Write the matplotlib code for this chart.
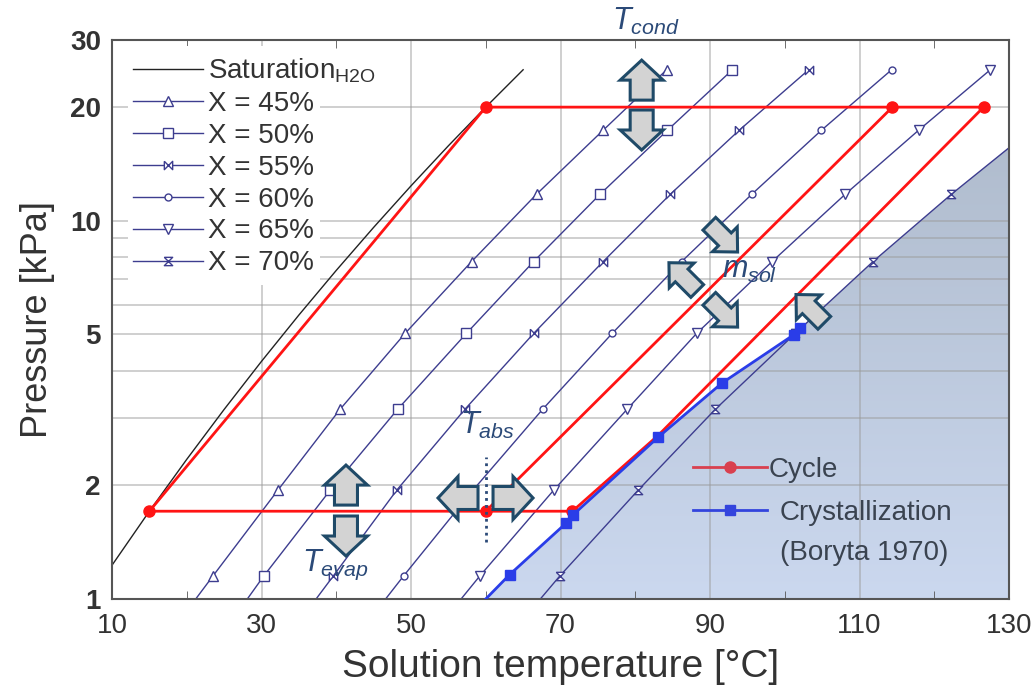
import numpy as np
import matplotlib as mpl
import matplotlib.pyplot as plt
from matplotlib.patches import Polygon, Rectangle
from matplotlib.lines import Line2D
from matplotlib.ticker import NullFormatter
from matplotlib.transforms import IdentityTransform

mpl.use('Agg')

plt.rcParams['font.family'] = ['Liberation Sans', 'DejaVu Sans']
plt.rcParams['mathtext.fontset'] = 'custom'
plt.rcParams['mathtext.rm'] = 'Liberation Sans'
plt.rcParams['mathtext.it'] = 'Liberation Sans:italic'

# water saturation curve
t_sat = [10, 15, 20, 25, 30, 35, 40, 45, 50, 55, 60, 65]
p_sat = [1.228, 1.706, 2.339, 3.169, 4.246, 5.628, 7.384, 9.593, 12.35, 15.76, 19.94, 25.03]

# pressure levels of the iso-concentration points (first one = start of line, no marker)
p_lev = [1.0, 1.15, 1.94, 3.17, 5.03, 7.79, 11.74, 17.32, 25.03]

# solution temperature at each pressure level
t_45 = [21.2, 23.5, 32.2, 40.5, 49.2, 58.1, 66.8, 75.7, 84.2]
t_50 = [28.1, 30.3, 39.2, 48.2, 57.4, 66.4, 75.3, 84.3, 93.0]
t_55 = [37.3, 39.6, 48.1, 57.2, 66.4, 75.7, 84.7, 93.9, 103.2]
t_60 = [46.6, 49.0, 58.3, 67.6, 76.9, 86.2, 95.6, 104.9, 114.3]
t_65 = [56.7, 59.2, 69.1, 78.9, 88.2, 98.3, 108.1, 117.9, 127.5]
t_70 = [67.3, 69.9, 80.4, 90.7, 101.4, 111.8, 122.3, 132.9]

# absorption cycle
cycle_t = [15.0, 60.0, 126.6, 83.1, 71.6, 15.0]
cycle_p = [1.706, 19.94, 19.94, 2.71, 1.706, 1.706]
inner_t = [60.0, 114.4]
inner_p = [1.706, 19.94]
state_t = [15.0, 60.0, 114.4, 126.6, 60.0, 71.6]
state_p = [1.706, 19.94, 19.94, 19.94, 1.706, 1.706]

# crystallization line (Boryta 1970)
crys_t = [60.0, 63.2, 70.8, 71.7, 83.1, 91.6, 101.2, 102.0]
crys_p = [1.00, 1.16, 1.59, 1.67, 2.68, 3.72, 4.99, 5.19]
# upper edge of the crystallization zone beyond the last point
zone_t = [111.8, 122.3, 130.0, 130.0, 60.0]
zone_p = [7.79, 11.74, 15.6, 1.0, 1.0]

line_col = '#3d3d8f'
text_col = '#333333'
note_col = '#2b4a78'

bowtie = [(-1, 1), (-1, -1), (1, 1), (1, -1), (-1, 1)]
hourglass = [(-1, 1), (1, 1), (-1, -1), (1, -1), (-1, 1)]

fig = plt.figure(figsize=(10.36, 6.85), dpi=100)
ax = fig.add_axes([112 / 1036, 1 - 599 / 685, 897 / 1036, 559 / 685])
ax.set_yscale('log')

# crystallization zone with a soft vertical gradient
zone = Polygon(np.column_stack([crys_t + zone_t, crys_p + zone_p]), closed=True,
               fc='none', ec='none')
ax.add_patch(zone)
c_top = np.array(mpl.colors.to_rgb('#aab6c6'))
c_bot = np.array(mpl.colors.to_rgb('#cbd8ef'))
g = np.linspace(0, 1, 256)[:, None]
grad = (c_top * (1 - g) + c_bot * g)[:, None, :].repeat(2, axis=1)
im = ax.imshow(grad, extent=[0, 1, 0, 1], transform=ax.transAxes, aspect='auto',
               zorder=1, interpolation='bilinear')
im.set_clip_path(zone)

ax.plot(t_sat, p_sat, color='#222222', lw=1.0, label=r'Saturation$_{\mathregular{H2O}}$', zorder=2)

series = [
    (t_45, '^', 7, 'X = 45%'),
    (t_50, 's', 7, 'X = 50%'),
    (t_55, bowtie, 6, 'X = 55%'),
    (t_60, 'o', 5, 'X = 60%'),
    (t_65, 'v', 7, 'X = 65%'),
    (t_70, hourglass, 6, 'X = 70%'),
]
for t, mk, ms, lab in series:
    ax.plot(t, p_lev[:len(t)], color=line_col, lw=1.0, marker=mk, ms=ms, mfc='white',
            mec=line_col, mew=1.0, markevery=slice(1, None), label=lab, zorder=2)

red = '#ff1414'
ax.plot(cycle_t, cycle_p, color=red, lw=2.0, zorder=3)
ax.plot(inner_t, inner_p, color=red, lw=2.0, zorder=3)
ax.plot(state_t, state_p, ls='none', marker='o', ms=8, color=red, zorder=3)

blue = '#2a3de8'
ax.plot(crys_t, crys_p, color=blue, lw=2.0, marker='s', ms=7, markevery=slice(1, None), zorder=4)

# T_abs marker line
ax.plot([60, 60], [1.417, 2.377], color=note_col, ls=(0, (1, 1.5)), lw=2, zorder=4)

ax.set_xlim(10, 130)
ax.set_ylim(1, 30)

ax.set_xticks(range(10, 131, 20))
ax.set_xticks(range(20, 121, 20), minor=True)
ax.set_yticks([1, 2, 5, 10, 20, 30])
ax.set_yticklabels(['1', '2', '5', '10', '20', '30'])
ax.set_yticks([3, 4, 6, 7, 8, 9], minor=True)
ax.yaxis.set_minor_formatter(NullFormatter())
ax.tick_params(axis='x', which='major', length=0, labelsize=20, pad=10, labelcolor=text_col)
ax.tick_params(axis='x', which='minor', direction='in', length=6, top=True, bottom=True,
               color='#555555')
ax.tick_params(axis='y', which='both', length=0, labelsize=20, pad=8, labelcolor=text_col)
for lab in ax.get_yticklabels():
    lab.set_fontweight('bold')

ax.grid(True, axis='x', which='major', color='#9a9a9a', alpha=0.55, lw=1.2)
ax.grid(True, axis='y', which='both', color='#9a9a9a', alpha=0.55, lw=1.2)
for s in ax.spines.values():
    s.set_color('#555555')
    s.set_linewidth(1.5)

ax.set_xlabel('Solution temperature [°C]', fontsize=28, color=text_col, labelpad=7)
ax.set_ylabel('Pressure [kPa]', fontsize=26, color=text_col, labelpad=11)

# white patch behind the concentration legend
ax.add_patch(Rectangle((0.0178, 0.562), 0.214, 0.427, transform=ax.transAxes,
                       fc='white', ec='none', zorder=1.6))
leg1 = ax.legend(loc='upper left', bbox_to_anchor=(0.0168, 0.980), frameon=False,
                 fontsize=20, handlelength=2.52, handletextpad=0.18, labelspacing=0.21,
                 borderpad=0.2, borderaxespad=0)
for txt in leg1.get_texts():
    txt.set_color(text_col)
ax.add_artist(leg1)

h_cycle = Line2D([], [], color='#d9404f', lw=2, marker='o', ms=8)
leg2 = ax.legend([h_cycle], ['Cycle'], loc='center left', bbox_to_anchor=(0.648, 0.231),
                 frameon=False, fontsize=20, handlelength=2.66, handletextpad=0.05,
                 borderpad=0, borderaxespad=0, labelcolor='#3a4350')
ax.add_artist(leg2)
h_crys = Line2D([], [], color='#3344dd', lw=2, marker='s', ms=7)
ax.legend([h_crys], ['Crystallization'], loc='center left', bbox_to_anchor=(0.648, 0.154),
          frameon=False, fontsize=20, handlelength=2.66, handletextpad=0.46,
          borderpad=0, borderaxespad=0, labelcolor='#3a4350')
ax.text(0.7445, 0.082, '(Boryta 1970)', transform=ax.transAxes, fontsize=20,
        color='#3a4350', va='center', ha='left')


def block_arrow(t, p, angle, length=40, head_w=43, shaft_w=23, head_len=20):
    cx, cy = ax.transData.transform((t, p))
    h = length / 2
    pts = np.array([[-h, -shaft_w / 2], [h - head_len, -shaft_w / 2],
                    [h - head_len, -head_w / 2], [h, 0], [h - head_len, head_w / 2],
                    [h - head_len, shaft_w / 2], [-h, shaft_w / 2]])
    a = np.deg2rad(angle)
    rot = np.array([[np.cos(a), -np.sin(a)], [np.sin(a), np.cos(a)]])
    pts = pts @ rot.T + [cx, cy]
    ax.add_patch(Polygon(pts, closed=True, transform=IdentityTransform(), fc='#d3d3d3',
                         ec='#1f4a68', lw=2.2, joinstyle='miter', zorder=6, clip_on=False))


block_arrow(80.86, 23.5, 90)
block_arrow(80.86, 17.35, -90)
block_arrow(41.3, 2.0, 90)
block_arrow(41.3, 1.467, -90)
block_arrow(56.29, 1.849, 180)
block_arrow(63.65, 1.849, 0)
diag = dict(length=40, head_w=35, shaft_w=18, head_len=18)
block_arrow(91.8, 9.0, -45, **diag)
block_arrow(86.4, 7.1, 135, **diag)
block_arrow(91.8, 5.70, -45, **diag)
block_arrow(103.4, 5.85, 135, **diag)

ax.text(76.9, 33.5, r'$T_{cond}$', fontsize=22, color=note_col, va='center', ha='left',
        clip_on=False, zorder=7)
ax.text(56.6, 2.88, r'$T_{abs}$', fontsize=22, color=note_col, va='center', ha='left', zorder=7)
ax.text(35.4, 1.23, r'$T_{evap}$', fontsize=22, color=note_col, va='center', ha='left', zorder=7)
ax.text(91.6, 7.40, r'$m_{sol}$', fontsize=22, color=note_col, va='center', ha='left', zorder=7)

fig.savefig('out.png', dpi=100)
